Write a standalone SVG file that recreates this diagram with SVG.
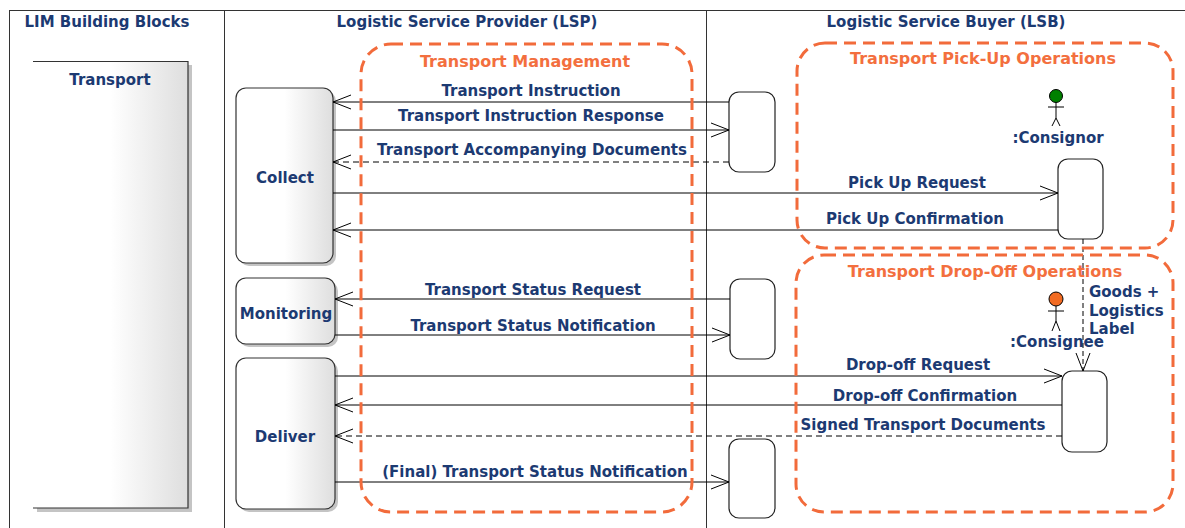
<svg xmlns="http://www.w3.org/2000/svg" width="1185" height="528" viewBox="0 0 1185 528">
<defs>
<linearGradient id="blk" x1="0" y1="0" x2="1" y2="0">
<stop offset="0" stop-color="#ffffff"/>
<stop offset="0.5" stop-color="#ffffff"/>
<stop offset="1" stop-color="#dedede"/>
</linearGradient>
<marker id="open" viewBox="-19 -8 20 16" refX="0" refY="0" markerWidth="20" markerHeight="16" markerUnits="userSpaceOnUse" orient="auto">
<path d="M-18,-7 L0,0 L-18,7" fill="none" stroke="#000" stroke-width="1"/>
</marker>
<style>
.t{font-family:"DejaVu Sans","Verdana",sans-serif;font-weight:bold;font-size:15px;fill:#1c3a72;}
.h{font-family:"DejaVu Sans","Verdana",sans-serif;font-weight:bold;font-size:15px;fill:#1c3a72;text-anchor:middle;}
.o{font-family:"DejaVu Sans","Verdana",sans-serif;font-weight:bold;font-size:16px;fill:#f36f3e;text-anchor:middle;}
.frame{stroke:#333;stroke-width:1;fill:none;}
.blk{fill:url(#blk);stroke:#333;stroke-width:1.2;}
.shadow{fill:#c4c4c4;}
.life{fill:#fff;stroke:#222;stroke-width:1.2;}
.msg{stroke:#000;stroke-width:1;fill:none;marker-end:url(#open);}
.dash{stroke-dasharray:6,4;}
.frag{fill:none;stroke:#f26b3b;stroke-width:3;stroke-dasharray:12,7;}
.actor{stroke:#000;stroke-width:1;fill:none;}
</style>
</defs>
<rect width="1185" height="528" fill="#fff"/>
<g id="frame">
<path class="frame" d="M9,10.5 H1185 M9.5,10 V528 M224.5,10 V528 M706.5,10 V528"/>
<text class="h" x="107" y="27">LIM Building Blocks</text>
<text class="h" x="467" y="27">Logistic Service Provider (LSP)</text>
<text class="h" x="946" y="27">Logistic Service Buyer (LSB)</text>
</g>
<g id="transport">
<rect class="shadow" x="37" y="65" width="155" height="447"/>
<rect x="33" y="61" width="155" height="447" fill="url(#blk)"/>
<path d="M33,61.5 H188 V508 H33" fill="none" stroke="#333" stroke-width="1.2"/>
<text class="h" x="110" y="85">Transport</text>
</g>
<g id="collect">
<rect class="shadow" x="239" y="91" width="97" height="175" rx="10"/>
<rect class="blk" x="236" y="88" width="97" height="175" rx="10"/>
<text class="h" x="285" y="183">Collect</text>
</g>
<g id="monitoring">
<rect class="shadow" x="239" y="281" width="99" height="66" rx="10"/>
<rect class="blk" x="236" y="278" width="99" height="66" rx="10"/>
<text class="h" x="286" y="319">Monitoring</text>
</g>
<g id="deliver">
<rect class="shadow" x="239" y="361" width="99" height="151" rx="10"/>
<rect class="blk" x="236" y="358" width="99" height="151" rx="10"/>
<text class="h" x="285" y="442">Deliver</text>
</g>
<g id="lsp1"><rect class="life" x="729" y="92" width="46" height="80" rx="10"/></g>
<g id="lsp2"><rect class="life" x="730" y="279" width="45" height="80" rx="10"/></g>
<g id="lsp3"><rect class="life" x="729" y="439" width="46" height="79" rx="10"/></g>
<g id="consignor-act"><rect class="life" x="1058" y="159" width="45" height="80" rx="10"/></g>
<g id="consignee-act"><rect class="life" x="1062" y="371" width="45" height="81" rx="10"/></g>
<g id="consignor">
<circle cx="1056" cy="96" r="6.5" fill="#008000" stroke="#000" stroke-width="1"/>
<path class="actor" d="M1056,102.5 V118 M1048,107 H1064 M1056,118 L1052,126 M1056,118 L1060,126"/>
<text class="h" x="1058" y="143">:Consignor</text>
</g>
<g id="consignee">
<circle cx="1056" cy="299" r="7" fill="#f26b22" stroke="#000" stroke-width="1"/>
<path class="actor" d="M1056,306 V321 M1048,311 H1064 M1056,321 L1052,331 M1056,321 L1060,331"/>
<text class="h" x="1057" y="347">:Consignee</text>
</g>
<g id="connectors">
<line class="msg" x1="729" y1="102" x2="333" y2="102"/>
<line class="msg" x1="333" y1="130" x2="729" y2="130"/>
<line class="msg dash" x1="729" y1="162" x2="333" y2="162"/>
<line class="msg" x1="333" y1="193" x2="1058" y2="193"/>
<line class="msg" x1="1058" y1="230" x2="333" y2="230"/>
<line class="msg" x1="730" y1="299" x2="335" y2="299"/>
<line class="msg" x1="335" y1="335" x2="730" y2="335"/>
<line class="msg" x1="335" y1="376" x2="1062" y2="376"/>
<line class="msg" x1="1062" y1="405" x2="335" y2="405"/>
<line class="msg dash" x1="1062" y1="436" x2="335" y2="436"/>
<line class="msg" x1="335" y1="482" x2="729" y2="482"/>
<line class="msg dash" x1="1083" y1="239" x2="1083" y2="371" style="stroke-dasharray:5,3"/>
</g>
<g id="fragments">
<rect class="frag" x="361" y="44" width="331" height="468" rx="30"/>
<rect class="frag" x="797" y="43" width="376" height="205" rx="28"/>
<rect class="frag" x="796" y="255" width="377" height="257" rx="28"/>
<text class="o" x="525" y="67">Transport Management</text>
<text class="o" x="983" y="64">Transport Pick-Up Operations</text>
<text class="o" x="985" y="277">Transport Drop-Off Operations</text>
</g>
<g id="labels">
<text class="h" x="531" y="96">Transport Instruction</text>
<text class="h" x="531" y="121">Transport Instruction Response</text>
<text class="h" x="532" y="155">Transport Accompanying Documents</text>
<text class="h" x="917" y="188">Pick Up Request</text>
<text class="h" x="915" y="224">Pick Up Confirmation</text>
<text class="h" x="533" y="295">Transport Status Request</text>
<text class="h" x="533" y="331">Transport Status Notification</text>
<text class="h" x="918" y="370">Drop-off Request</text>
<text class="h" x="925" y="401">Drop-off Confirmation</text>
<text class="h" x="923" y="430">Signed Transport Documents</text>
<text class="h" x="535" y="477">(Final) Transport Status Notification</text>
<text class="t" x="1089" y="297">Goods +</text>
<text class="t" x="1089" y="316">Logistics</text>
<text class="t" x="1089" y="334">Label</text>
</g>
</svg>
